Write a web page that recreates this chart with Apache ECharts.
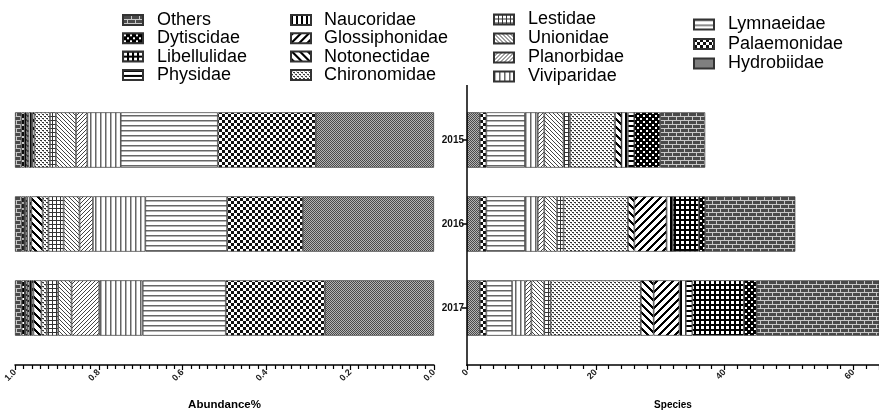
<!DOCTYPE html>
<html>
<head>
<meta charset="utf-8">
<script src="https://cdn.jsdelivr.net/npm/echarts@6/dist/echarts.min.js"></script>
<style>
  html, body { margin: 0; padding: 0; background: #fff; }
  #chart { width: 879px; height: 412px; }
</style>
</head>
<body>
<div id="chart"></div>
<script>
// stack order, from 0 outwards
var families = ['Hydrobiidae', 'Palaemonidae', 'Lymnaeidae', 'Viviparidae', 'Planorbidae',
  'Unionidae', 'Lestidae', 'Chironomidae', 'Notonectidae', 'Glossiphonidae',
  'Naucoridae', 'Physidae', 'Libellulidae', 'Dytiscidae', 'Others'];
var years = ['2015', '2016', '2017'];

// relative abundance (left panel)
var abundance2015 = [0.282, 0.234, 0.2315, 0.080, 0.027, 0.048, 0.014, 0.037, 0.005, 0.002, 0.007, 0.004, 0.006, 0.007, 0.0155];
var abundance2016 = [0.313, 0.181, 0.195, 0.125, 0.032, 0.038, 0.036, 0.014, 0.027, 0.004, 0.006, 0.004, 0.003, 0.006, 0.016];
var abundance2017 = [0.260, 0.237, 0.198, 0.104, 0.066, 0.032, 0.027, 0.013, 0.019, 0.004, 0.006, 0.005, 0.005, 0.008, 0.016];

// species counts (right panel)
var species2015 = [2, 1, 6, 2, 1, 3, 1, 7, 1, 0, 1, 1, 0, 4, 7];
var species2016 = [2, 1, 6, 2, 1, 2, 1, 10, 1, 5, 1, 0, 4, 1, 14];
var species2017 = [2, 1, 4, 2, 1, 2, 1, 14, 2, 4, 1, 1, 8, 2, 20];

var legendCols = [
  ['Others', 'Dytiscidae', 'Libellulidae', 'Physidae'],
  ['Naucoridae', 'Glossiphonidae', 'Notonectidae', 'Chironomidae'],
  ['Lestidae', 'Unionidae', 'Planorbidae', 'Viviparidae'],
  ['Lymnaeidae', 'Palaemonidae', 'Hydrobiidae']
];

// hatch patterns drawn on small canvases
function pat(w, h, draw) {
  var c = document.createElement('canvas');
  c.width = w; c.height = h;
  var g = c.getContext('2d');
  g.fillStyle = '#fff';
  g.fillRect(0, 0, w, h);
  draw(g, w, h);
  return { image: c, repeat: 'repeat' };
}
function px(g, list, col) {
  g.fillStyle = col;
  list.forEach(function (p) { g.fillRect(p[0], p[1], 1, 1); });
}
function each(g, w, h, test, col) {
  g.fillStyle = col;
  for (var x = 0; x < w; x++) for (var y = 0; y < h; y++) if (test(x, y)) g.fillRect(x, y, 1, 1);
}

var patterns = {
  Hydrobiidae: pat(2, 2, function (g) { px(g, [[0, 0], [1, 1]], '#4a4a4a'); px(g, [[1, 0], [0, 1]], '#b4b4b4'); }),
  Palaemonidae: pat(6, 6, function (g) { g.fillStyle = '#111'; g.fillRect(0, 0, 3, 3); g.fillRect(3, 3, 3, 3); }),
  Lymnaeidae: pat(4, 5, function (g) { g.fillStyle = '#666'; g.fillRect(0, 0, 4, 1.5); }),
  Viviparidae: pat(5, 4, function (g) { g.fillStyle = '#666'; g.fillRect(0, 0, 1.5, 4); }),
  Planorbidae: pat(4, 4, function (g) { px(g, [[0, 3], [1, 2], [2, 1], [3, 0]], '#444'); }),
  Unionidae: pat(4, 4, function (g) { px(g, [[0, 0], [1, 1], [2, 2], [3, 3]], '#444'); }),
  Lestidae: pat(4, 4, function (g) { g.fillStyle = '#333'; g.fillRect(0, 0, 4, 1); g.fillRect(0, 0, 1, 4); }),
  Chironomidae: pat(4, 4, function (g) { px(g, [[0, 0], [1, 0], [2, 2], [3, 2]], '#333'); px(g, [[1, 1], [3, 3]], '#aaa'); }),
  Notonectidae: pat(8, 8, function (g, w, h) { each(g, w, h, function (x, y) { return (x - y + 8) % 8 < 3; }, '#000'); }),
  Glossiphonidae: pat(8, 8, function (g, w, h) { each(g, w, h, function (x, y) { return (x + y) % 8 < 3; }, '#000'); }),
  Naucoridae: pat(5, 2, function (g) { g.fillStyle = '#000'; g.fillRect(0, 0, 2, 2); }),
  Physidae: pat(2, 5, function (g) { g.fillStyle = '#000'; g.fillRect(0, 0, 2, 2); }),
  Libellulidae: pat(5, 5, function (g) { g.fillStyle = '#000'; g.fillRect(0, 0, 5, 5); g.fillStyle = '#fff'; g.fillRect(1, 1, 3, 3); }),
  Dytiscidae: pat(6, 6, function (g) { g.fillStyle = '#000'; g.fillRect(0, 0, 6, 6); g.fillStyle = '#fff'; g.fillRect(1, 1, 2, 2); g.fillRect(4, 4, 2, 2); }),
  Others: pat(8, 8, function (g) {
    g.fillStyle = '#4a4a4a'; g.fillRect(0, 0, 8, 8);
    g.fillStyle = '#c8c8c8';
    g.fillRect(0, 0, 8, 1); g.fillRect(0, 4, 8, 1);
    g.fillRect(0, 0, 1, 4); g.fillRect(4, 4, 1, 4);
  })
};

var series = [];
families.forEach(function (name, i) {
  var style = { color: patterns[name], borderColor: '#333', borderWidth: 0.7 };
  series.push({
    name: name, type: 'bar', stack: 'abund', xAxisIndex: 0, yAxisIndex: 0,
    barWidth: '66%', itemStyle: style, emphasis: { disabled: true },
    data: [abundance2015[i], abundance2016[i], abundance2017[i]]
  });
  series.push({
    name: name, type: 'bar', stack: 'species', xAxisIndex: 1, yAxisIndex: 1,
    barWidth: '66%', itemStyle: style, emphasis: { disabled: true },
    data: [species2015[i], species2016[i], species2017[i]]
  });
});

var legendPos = [
  { left: 122, top: 11, itemGap: 0.3, textGap: 9 },
  { left: 290, top: 11, itemGap: 0.3, textGap: 8 },
  { left: 493, top: 10.5, itemGap: 1, textGap: 9 },
  { left: 693, top: 15.5, itemGap: 1.5, textGap: 9 }
];
var legends = legendCols.map(function (col, k) {
  return {
    data: col, orient: 'vertical', left: legendPos[k].left, top: legendPos[k].top, padding: 0,
    itemGap: legendPos[k].itemGap,
    itemWidth: 20, itemHeight: 10, icon: 'rect', selectedMode: false,
    textStyle: {
      fontSize: 18, fontFamily: 'Liberation Sans, Arial', color: '#000', lineHeight: 17,
      padding: [0, 0, 0, legendPos[k].textGap]
    }
  };
});

var axisText = { fontSize: 9, fontWeight: 'bold', fontFamily: 'Liberation Sans, Arial', color: '#222' };

var chart = echarts.init(document.getElementById('chart'));
chart.setOption({
  animation: false,
  legend: legends,
  grid: [
    { left: 15, right: 445, top: 98, height: 252, outerBoundsMode: 'none' },
    { left: 467, right: 0, top: 98, height: 252, outerBoundsMode: 'none' }
  ],
  xAxis: [
    {
      gridIndex: 0, type: 'value', inverse: true, min: 0, max: 1, interval: 0.2, offset: 15,
      name: 'Abundance%', nameLocation: 'middle', nameGap: 34,
      nameTextStyle: { fontSize: 11.5, fontWeight: 'bold', fontFamily: 'Liberation Sans, Arial', color: '#000' },
      axisLine: { show: true, lineStyle: { color: '#000', width: 1.5 } },
      axisTick: { show: true, length: 5, lineStyle: { color: '#000', width: 1.2 } },
      minorTick: { show: true, splitNumber: 10, length: 4, lineStyle: { color: '#000', width: 1.2 } },
      splitLine: { show: false },
      axisLabel: Object.assign({ rotate: 45, margin: 6, formatter: function (v) { return v.toFixed(1); } }, axisText)
    },
    {
      gridIndex: 1, type: 'value', min: 0, max: 64, interval: 20, offset: 15,
      name: 'Species', nameLocation: 'middle', nameGap: 35,
      nameTextStyle: { fontSize: 10, fontWeight: 'bold', fontFamily: 'Liberation Sans, Arial', color: '#000' },
      axisLine: { show: true, lineStyle: { color: '#000', width: 1.5 } },
      axisTick: { show: true, length: 5, lineStyle: { color: '#000', width: 1.2 } },
      minorTick: { show: true, splitNumber: 10, length: 4, lineStyle: { color: '#000', width: 1.2 } },
      splitLine: { show: false },
      axisLabel: Object.assign({ rotate: 45, margin: 6, showMaxLabel: false }, axisText)
    }
  ],
  yAxis: [
    { gridIndex: 0, type: 'category', data: years, inverse: true, show: false },
    {
      gridIndex: 1, type: 'category', data: years, inverse: true,
      axisLine: { show: false },
      axisTick: { show: true, alignWithLabel: true, length: 5, lineStyle: { color: '#000', width: 1.5 } },
      axisLabel: { fontSize: 10, fontWeight: 'bold', fontFamily: 'Liberation Sans, Arial', color: '#111', margin: 3 }
    }
  ],
  graphic: [
    { type: 'line', shape: { x1: 467, y1: 85, x2: 467, y2: 366 }, style: { stroke: '#000', lineWidth: 1.5 }, z: 10 }
  ],
  series: series
});
</script>
</body>
</html>
